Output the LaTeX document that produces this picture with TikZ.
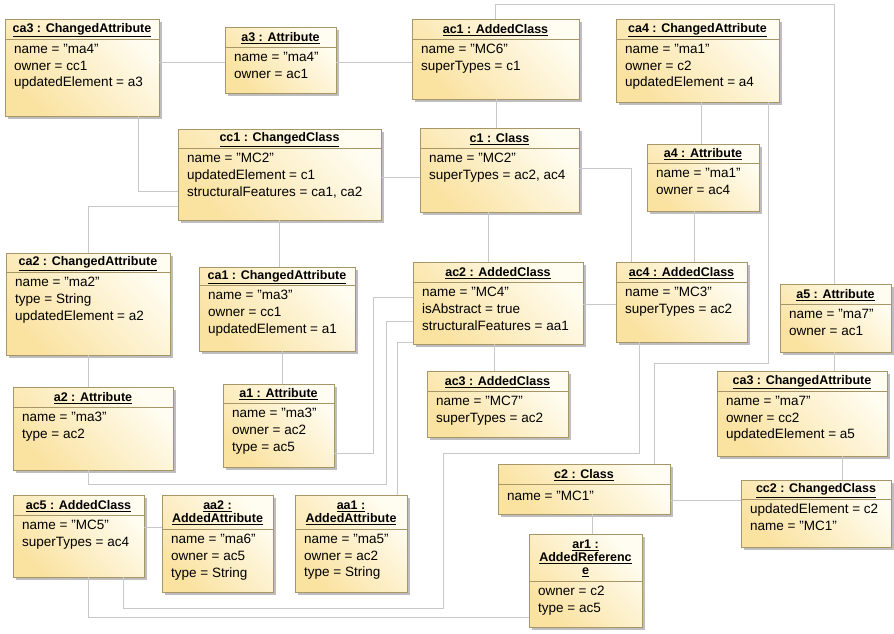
\documentclass[tikz,border=0pt]{standalone}
\usepackage{fontspec}
\setmainfont{Liberation Sans}
\definecolor{bordc}{RGB}{166,150,104}
\definecolor{fillY}{RGB}{250,226,160}
\definecolor{fillW}{RGB}{255,253,242}
\definecolor{shadowc}{RGB}{190,190,190}
\definecolor{linkc}{RGB}{200,200,200}
\tikzset{
  objframe/.style={draw=bordc, line width=0.8pt, top color=fillW, bottom color=fillY,
    shading angle=-45, inner sep=0pt, outer sep=0pt},
  hdr/.style={font=\fontsize{12.5}{13}\selectfont\bfseries, align=center, inner sep=0pt},
  bodytxt/.style={anchor=north west, align=left, inner sep=0pt,
    font=\fontsize{13.5}{16.7}\selectfont, execute at begin node=\strut},
  link/.style={draw=linkc, line width=0.9pt}
}
% #1 name, #2 left, #3 top, #4 right, #5 bottom, #6 header rule, #7 title, #8 slots
\newcommand\objbox[8]{%
  \fill[shadowc] ({#2+3},{#3+3}) rectangle ({#4+3},{#5+3});
  \node[objframe, anchor=north west, minimum width={(#4)-(#2)},
        minimum height={(#5)-(#3)}] (#1) at (#2,#3) {};
  \draw[bordc, line width=0.8pt] (#1.west |- 0,#6) -- (#1.east |- 0,#6);
  \node[hdr] at ({(#2+#4)/2},{(#3+#6)/2+1}) {#7};
  \node[bodytxt] at ({#2+9},{#6+5}) {#8};
}
\begin{document}
\begin{tikzpicture}[x=1pt,y=-1pt]
\fill[white] (0,0) rectangle (894,633);
\useasboundingbox (0,0) rectangle (894,633);

\objbox{ca3a}{5}{19}{159}{116}{39}{\underline{ca3 : ChangedAttribute}}
  {name = "ma4"\\owner = cc1\\updatedElement = a3}
\objbox{a3}{225}{27}{336}{93}{47}{\underline{a3 : Attribute}}
  {name = "ma4"\\owner = ac1}
\objbox{ac1}{412}{19}{579}{99}{39}{\underline{ac1 : AddedClass}}
  {name = "MC6"\\superTypes = c1}
\objbox{ca4}{616}{19}{779}{102}{39}{\underline{ca4 : ChangedAttribute}}
  {name = "ma1"\\owner = c2\\updatedElement = a4}
\objbox{cc1}{178}{129}{381}{220}{148}{\underline{cc1 : ChangedClass}}
  {name = "MC2"\\updatedElement = c1\\structuralFeatures = ca1, ca2}
\objbox{c1}{420}{128}{579}{212}{148}{\underline{c1 : Class}}
  {name = "MC2"\\superTypes = ac2, ac4}
\objbox{a4}{647}{144}{759}{211}{163}{\underline{a4 : Attribute}}
  {name = "ma1"\\owner = ac4}
\objbox{ca2}{6}{253}{170}{355}{272}{\underline{ca2 : ChangedAttribute}}
  {name = "ma2"\\type = String\\updatedElement = a2}
\objbox{ca1}{199}{267}{355}{351}{285}{\underline{ca1 : ChangedAttribute}}
  {name = "ma3"\\owner = cc1\\updatedElement = a1}
\objbox{ac2}{413}{262}{583}{344}{282}{\underline{ac2 : AddedClass}}
  {name = "MC4"\\isAbstract = true\\structuralFeatures = aa1}
\objbox{ac4}{616}{262}{747}{342}{282}{\underline{ac4 : AddedClass}}
  {name = "MC3"\\superTypes = ac2}
\objbox{a5}{780}{284}{891}{352}{304}{\underline{a5 : Attribute}}
  {name = "ma7"\\owner = ac1}
\objbox{a2}{13}{387}{173}{470}{407}{\underline{a2 : Attribute}}
  {name = "ma3"\\type = ac2}
\objbox{a1}{223}{384}{334}{467}{403}{\underline{a1 : Attribute}}
  {name = "ma3"\\owner = ac2\\type = ac5}
\objbox{ac3}{427}{371}{568}{437}{391}{\underline{ac3 : AddedClass}}
  {name = "MC7"\\superTypes = ac2}
\objbox{ca3b}{717}{371}{887}{456}{391}{\underline{ca3 : ChangedAttribute}}
  {name = "ma7"\\owner = cc2\\updatedElement = a5}
\objbox{c2}{498}{464}{670}{514}{484}{\underline{c2 : Class}}
  {name = "MC1"}
\objbox{cc2}{741}{480}{891}{547}{499}{\underline{cc2 : ChangedClass}}
  {updatedElement = c2\\name = "MC1"}
\objbox{ac5}{13}{495}{144}{577}{515}{\underline{ac5 : AddedClass}}
  {name = "MC5"\\superTypes = ac4}
\objbox{aa2}{162}{495}{273}{592}{529}{\underline{aa2 :}\\\underline{AddedAttribute}}
  {name = "ma6"\\owner = ac5\\type = String}
\objbox{aa1}{295}{495}{407}{592}{529}{\underline{aa1 :}\\\underline{AddedAttribute}}
  {name = "ma5"\\owner = ac2\\type = String}
\objbox{ar1}{529}{534}{642}{627}{581}{\underline{ar1 :}\\\underline{AddedReferenc}\\\underline{e}}
  {owner = c2\\type = ac5}

% links between the objects
\draw[link] (ca3a.east |- 0,62) -- (a3.west |- 0,62);
\draw[link] (a3.east |- 0,62) -- (ac1.west |- 0,62);
\draw[link] (ca3a.south -| 138,0) -- (138,191) -- (cc1.west |- 0,191);
\draw[link] (ac1.south -| 496,0) -- (c1.north -| 496,0);
\draw[link] (cc1.east |- 0,177) -- (c1.west |- 0,177);
\draw[link] (c1.east |- 0,168) -- (631,168) -- (ac4.north -| 631,0);
\draw[link] (c1.south -| 488,0) -- (ac2.north -| 488,0);
\draw[link] (ca4.south -| 701,0) -- (a4.north -| 701,0);
\draw[link] (a4.south -| 694,0) -- (ac4.north -| 694,0);
\draw[link] (cc1.west |- 0,206) -- (88,206) -- (ca2.north -| 88,0);
\draw[link] (cc1.south -| 279,0) -- (ca1.north -| 279,0);
\draw[link] (ac2.east |- 0,304) -- (ac4.west |- 0,304);
\draw[link] (ca2.south -| 88,0) -- (a2.north -| 88,0);
\draw[link] (ca1.south -| 282,0) -- (a1.north -| 282,0);
\draw[link] (ac2.south -| 494,0) -- (ac3.north -| 494,0);
\draw[link] (ac2.west |- 0,297) -- (373,297) -- (373,453) -- (a1.east |- 0,453);
\draw[link] (ac2.west |- 0,321) -- (386,321) -- (386,484) -- (88,484) -- (a2.south -| 88,0);
\draw[link] (ac2.west |- 0,342) -- (397,342) -- (aa1.north -| 397,0);
\draw[link] (ac4.south -| 639,0) -- (639,453) -- (443,453) -- (443,608) -- (123,608) -- (ac5.south -| 123,0);
\draw[link] (ac5.south -| 88,0) -- (88,617) -- (ar1.west |- 0,617);
\draw[link] (ac5.east |- 0,527) -- (aa2.west |- 0,527);
\draw[link] (c2.south -| 592,0) -- (ar1.north -| 592,0);
\draw[link] (c2.east |- 0,500) -- (cc2.west |- 0,500);
\draw[link] (ca3b.south -| 842,0) -- (cc2.north -| 842,0);
\draw[link] (a5.south -| 834,0) -- (ca3b.north -| 834,0);
\draw[link] (ac1.north -| 495,0) -- (495,4) -- (834,4) -- (a5.north -| 834,0);
\draw[link] (ca4.south -| 768,0) -- (768,363) -- (654,363) -- (c2.north -| 654,0);
\end{tikzpicture}
\end{document}
